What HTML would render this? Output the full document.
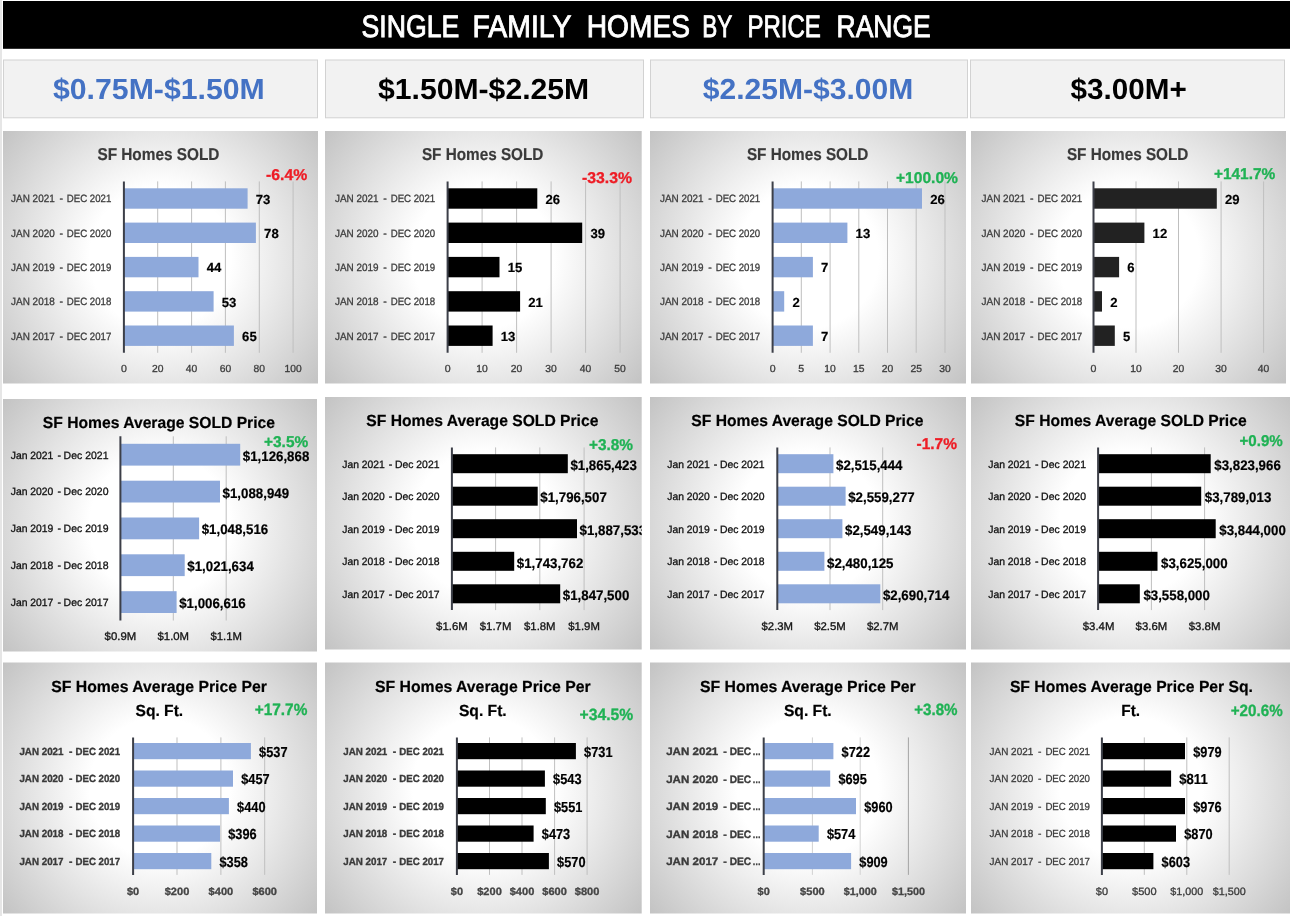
<!DOCTYPE html>
<html lang="en"><head><meta charset="utf-8"><title>Single Family Homes by Price Range</title>
<style>
html,body{margin:0;padding:0;background:#fff;}
body{width:1290px;height:916px;overflow:hidden;}
svg{display:block;font-family:"Liberation Sans",sans-serif;text-rendering:geometricPrecision;}
</style></head><body>
<svg width="1290" height="916" viewBox="0 0 1290 916">
<defs>
<radialGradient id="g0" gradientUnits="userSpaceOnUse" cx="160.5" cy="257.2" r="201.9"><stop offset="0" stop-color="#fff"/><stop offset="0.35" stop-color="#fff"/><stop offset="1" stop-color="#c3c3c3"/></radialGradient>
<clipPath id="c0"><rect x="3.0" y="131.0" width="315.0" height="252.5"/></clipPath>
<radialGradient id="g1" gradientUnits="userSpaceOnUse" cx="483.4" cy="257.2" r="202.5"><stop offset="0" stop-color="#fff"/><stop offset="0.35" stop-color="#fff"/><stop offset="1" stop-color="#c3c3c3"/></radialGradient>
<clipPath id="c1"><rect x="325.0" y="131.0" width="316.7" height="252.5"/></clipPath>
<radialGradient id="g2" gradientUnits="userSpaceOnUse" cx="808.0" cy="257.2" r="202.2"><stop offset="0" stop-color="#fff"/><stop offset="0.35" stop-color="#fff"/><stop offset="1" stop-color="#c3c3c3"/></radialGradient>
<clipPath id="c2"><rect x="650.0" y="131.0" width="316.0" height="252.5"/></clipPath>
<radialGradient id="g3" gradientUnits="userSpaceOnUse" cx="1128.5" cy="257.2" r="201.9"><stop offset="0" stop-color="#fff"/><stop offset="0.35" stop-color="#fff"/><stop offset="1" stop-color="#c3c3c3"/></radialGradient>
<clipPath id="c3"><rect x="971.0" y="131.0" width="315.0" height="252.5"/></clipPath>
<radialGradient id="g4" gradientUnits="userSpaceOnUse" cx="160.0" cy="525.2" r="201.5"><stop offset="0" stop-color="#fff"/><stop offset="0.35" stop-color="#fff"/><stop offset="1" stop-color="#c3c3c3"/></radialGradient>
<clipPath id="c4"><rect x="3.0" y="399.0" width="314.0" height="252.5"/></clipPath>
<radialGradient id="g5" gradientUnits="userSpaceOnUse" cx="483.4" cy="523.2" r="202.5"><stop offset="0" stop-color="#fff"/><stop offset="0.35" stop-color="#fff"/><stop offset="1" stop-color="#c3c3c3"/></radialGradient>
<clipPath id="c5"><rect x="325.0" y="397.0" width="316.7" height="252.5"/></clipPath>
<radialGradient id="g6" gradientUnits="userSpaceOnUse" cx="808.0" cy="523.2" r="202.2"><stop offset="0" stop-color="#fff"/><stop offset="0.35" stop-color="#fff"/><stop offset="1" stop-color="#c3c3c3"/></radialGradient>
<clipPath id="c6"><rect x="650.0" y="397.0" width="316.0" height="252.5"/></clipPath>
<radialGradient id="g7" gradientUnits="userSpaceOnUse" cx="1131.0" cy="523.2" r="203.8"><stop offset="0" stop-color="#fff"/><stop offset="0.35" stop-color="#fff"/><stop offset="1" stop-color="#c3c3c3"/></radialGradient>
<clipPath id="c7"><rect x="971.0" y="397.0" width="320.0" height="252.5"/></clipPath>
<radialGradient id="g8" gradientUnits="userSpaceOnUse" cx="160.0" cy="788.0" r="201.0"><stop offset="0" stop-color="#fff"/><stop offset="0.35" stop-color="#fff"/><stop offset="1" stop-color="#c3c3c3"/></radialGradient>
<clipPath id="c8"><rect x="3.0" y="662.5" width="314.0" height="251.0"/></clipPath>
<radialGradient id="g9" gradientUnits="userSpaceOnUse" cx="483.4" cy="788.0" r="202.1"><stop offset="0" stop-color="#fff"/><stop offset="0.35" stop-color="#fff"/><stop offset="1" stop-color="#c3c3c3"/></radialGradient>
<clipPath id="c9"><rect x="325.0" y="662.5" width="316.7" height="251.0"/></clipPath>
<radialGradient id="g10" gradientUnits="userSpaceOnUse" cx="808.0" cy="788.0" r="201.8"><stop offset="0" stop-color="#fff"/><stop offset="0.35" stop-color="#fff"/><stop offset="1" stop-color="#c3c3c3"/></radialGradient>
<clipPath id="c10"><rect x="650.0" y="662.5" width="316.0" height="251.0"/></clipPath>
<radialGradient id="g11" gradientUnits="userSpaceOnUse" cx="1131.0" cy="788.0" r="203.3"><stop offset="0" stop-color="#fff"/><stop offset="0.35" stop-color="#fff"/><stop offset="1" stop-color="#c3c3c3"/></radialGradient>
<clipPath id="c11"><rect x="971.0" y="662.5" width="320.0" height="251.0"/></clipPath>
</defs>
<rect x="0.0" y="0.0" width="2.0" height="916.0" fill="#e6e6e6"/>
<rect x="3.0" y="1.0" width="1287.0" height="47.8" fill="#000"/>
<text y="36.7" font-size="31.15" fill="#fff" stroke="#fff" stroke-width="0.9"><tspan x="361.6" textLength="97.7" lengthAdjust="spacingAndGlyphs">SINGLE</tspan> <tspan x="472.6" textLength="98.3" lengthAdjust="spacingAndGlyphs">FAMILY</tspan> <tspan x="586.7" textLength="103.3" lengthAdjust="spacingAndGlyphs">HOMES</tspan> <tspan x="702.3" textLength="29.6" lengthAdjust="spacingAndGlyphs">BY</tspan> <tspan x="747.4" textLength="73.5" lengthAdjust="spacingAndGlyphs">PRICE</tspan> <tspan x="836.5" textLength="94.2" lengthAdjust="spacingAndGlyphs">RANGE</tspan></text>
<rect x="3.5" y="60.0" width="314.0" height="57.8" fill="#f2f2f2" stroke="#d2d2d2" stroke-width="1"/>
<text x="53.0" y="99.4" font-size="29.05" font-weight="bold" fill="#4472c4" textLength="211.7" lengthAdjust="spacingAndGlyphs">$0.75M-$1.50M</text>
<rect x="325.5" y="60.0" width="318.0" height="57.8" fill="#f2f2f2" stroke="#d2d2d2" stroke-width="1"/>
<text x="378.0" y="99.4" font-size="29.05" font-weight="bold" fill="#000" textLength="211.2" lengthAdjust="spacingAndGlyphs">$1.50M-$2.25M</text>
<rect x="650.5" y="60.0" width="317.0" height="57.8" fill="#f2f2f2" stroke="#d2d2d2" stroke-width="1"/>
<text x="702.7" y="99.4" font-size="29.05" font-weight="bold" fill="#4472c4" textLength="210.6" lengthAdjust="spacingAndGlyphs">$2.25M-$3.00M</text>
<rect x="970.5" y="60.0" width="314.0" height="57.8" fill="#f2f2f2" stroke="#d2d2d2" stroke-width="1"/>
<text x="1070.5" y="99.4" font-size="29.05" font-weight="bold" fill="#000" textLength="116.2" lengthAdjust="spacingAndGlyphs">$3.00M+</text>
<rect x="3.0" y="131.0" width="315.0" height="252.5" fill="url(#g0)"/>
<g clip-path="url(#c0)">
<line x1="157.7" y1="181.4" x2="157.7" y2="352.8" stroke="#bfbfbf" stroke-width="1"/>
<line x1="191.6" y1="181.4" x2="191.6" y2="352.8" stroke="#bfbfbf" stroke-width="1"/>
<line x1="225.4" y1="181.4" x2="225.4" y2="352.8" stroke="#bfbfbf" stroke-width="1"/>
<line x1="259.3" y1="181.4" x2="259.3" y2="352.8" stroke="#bfbfbf" stroke-width="1"/>
<line x1="293.1" y1="181.4" x2="293.1" y2="352.8" stroke="#bfbfbf" stroke-width="1"/>
<rect x="123.9" y="188.3" width="123.7" height="20.4" fill="#8ea9db"/>
<rect x="123.9" y="222.6" width="132.0" height="20.4" fill="#8ea9db"/>
<rect x="123.9" y="256.9" width="74.6" height="20.4" fill="#8ea9db"/>
<rect x="123.9" y="291.2" width="89.7" height="20.4" fill="#8ea9db"/>
<rect x="123.9" y="325.5" width="110.0" height="20.4" fill="#8ea9db"/>
<line x1="123.9" y1="181.4" x2="123.9" y2="352.8" stroke="#3c3f48" stroke-width="2"/>
<text x="97.4" y="160.1" font-size="17.18" font-weight="bold" fill="#3a3a3a" stroke="#3a3a3a" stroke-width="0.2" textLength="122.0" lengthAdjust="spacingAndGlyphs">SF Homes SOLD</text>
<text x="266.0" y="179.5" font-size="15.64" font-weight="bold" fill="#ee1c25" stroke="#ee1c25" stroke-width="0.3" textLength="41.2" lengthAdjust="spacingAndGlyphs">-6.4%</text>
<text y="202.3" font-size="10.61" fill="#3c3c3c" stroke="#3c3c3c" stroke-width="0.3"><tspan x="11.1" textLength="43.6" lengthAdjust="spacingAndGlyphs">JAN 2021</tspan> <tspan x="59.4">-</tspan> <tspan x="66.8" textLength="44.5" lengthAdjust="spacingAndGlyphs">DEC 2021</tspan></text>
<text y="236.6" font-size="10.61" fill="#3c3c3c" stroke="#3c3c3c" stroke-width="0.3"><tspan x="11.1" textLength="43.6" lengthAdjust="spacingAndGlyphs">JAN 2020</tspan> <tspan x="59.4">-</tspan> <tspan x="66.8" textLength="44.5" lengthAdjust="spacingAndGlyphs">DEC 2020</tspan></text>
<text y="270.9" font-size="10.61" fill="#3c3c3c" stroke="#3c3c3c" stroke-width="0.3"><tspan x="11.1" textLength="43.6" lengthAdjust="spacingAndGlyphs">JAN 2019</tspan> <tspan x="59.4">-</tspan> <tspan x="66.8" textLength="44.5" lengthAdjust="spacingAndGlyphs">DEC 2019</tspan></text>
<text y="305.2" font-size="10.61" fill="#3c3c3c" stroke="#3c3c3c" stroke-width="0.3"><tspan x="11.1" textLength="43.6" lengthAdjust="spacingAndGlyphs">JAN 2018</tspan> <tspan x="59.4">-</tspan> <tspan x="66.8" textLength="44.5" lengthAdjust="spacingAndGlyphs">DEC 2018</tspan></text>
<text y="339.5" font-size="10.61" fill="#3c3c3c" stroke="#3c3c3c" stroke-width="0.3"><tspan x="11.1" textLength="43.6" lengthAdjust="spacingAndGlyphs">JAN 2017</tspan> <tspan x="59.4">-</tspan> <tspan x="66.8" textLength="44.5" lengthAdjust="spacingAndGlyphs">DEC 2017</tspan></text>
<text x="255.8" y="203.7" font-size="13.13" font-weight="bold" fill="#000" stroke="#000" stroke-width="0.2" textLength="14.6" lengthAdjust="spacingAndGlyphs">73</text>
<text x="264.1" y="238.0" font-size="13.13" font-weight="bold" fill="#000" stroke="#000" stroke-width="0.2" textLength="14.6" lengthAdjust="spacingAndGlyphs">78</text>
<text x="206.7" y="272.3" font-size="13.13" font-weight="bold" fill="#000" stroke="#000" stroke-width="0.2" textLength="14.6" lengthAdjust="spacingAndGlyphs">44</text>
<text x="221.8" y="306.6" font-size="13.13" font-weight="bold" fill="#000" stroke="#000" stroke-width="0.2" textLength="14.6" lengthAdjust="spacingAndGlyphs">53</text>
<text x="242.1" y="340.9" font-size="13.13" font-weight="bold" fill="#000" stroke="#000" stroke-width="0.2" textLength="14.6" lengthAdjust="spacingAndGlyphs">65</text>
<text x="123.9" y="371.9" font-size="10.20" fill="#3c3c3c" stroke="#3c3c3c" stroke-width="0.3" text-anchor="middle" textLength="5.9" lengthAdjust="spacingAndGlyphs">0</text>
<text x="157.7" y="371.9" font-size="10.20" fill="#3c3c3c" stroke="#3c3c3c" stroke-width="0.3" text-anchor="middle" textLength="11.5" lengthAdjust="spacingAndGlyphs">20</text>
<text x="191.6" y="371.9" font-size="10.20" fill="#3c3c3c" stroke="#3c3c3c" stroke-width="0.3" text-anchor="middle" textLength="11.5" lengthAdjust="spacingAndGlyphs">40</text>
<text x="225.4" y="371.9" font-size="10.20" fill="#3c3c3c" stroke="#3c3c3c" stroke-width="0.3" text-anchor="middle" textLength="11.5" lengthAdjust="spacingAndGlyphs">60</text>
<text x="259.3" y="371.9" font-size="10.20" fill="#3c3c3c" stroke="#3c3c3c" stroke-width="0.3" text-anchor="middle" textLength="11.5" lengthAdjust="spacingAndGlyphs">80</text>
<text x="293.1" y="371.9" font-size="10.20" fill="#3c3c3c" stroke="#3c3c3c" stroke-width="0.3" text-anchor="middle" textLength="17.1" lengthAdjust="spacingAndGlyphs">100</text>
</g>
<rect x="325.0" y="131.0" width="316.7" height="252.5" fill="url(#g1)"/>
<g clip-path="url(#c1)">
<line x1="482.1" y1="181.4" x2="482.1" y2="352.8" stroke="#bfbfbf" stroke-width="1"/>
<line x1="516.6" y1="181.4" x2="516.6" y2="352.8" stroke="#bfbfbf" stroke-width="1"/>
<line x1="551.1" y1="181.4" x2="551.1" y2="352.8" stroke="#bfbfbf" stroke-width="1"/>
<line x1="585.6" y1="181.4" x2="585.6" y2="352.8" stroke="#bfbfbf" stroke-width="1"/>
<line x1="620.1" y1="181.4" x2="620.1" y2="352.8" stroke="#bfbfbf" stroke-width="1"/>
<rect x="447.6" y="188.3" width="89.7" height="20.4" fill="#000"/>
<rect x="447.6" y="222.6" width="134.6" height="20.4" fill="#000"/>
<rect x="447.6" y="256.9" width="51.9" height="20.4" fill="#000"/>
<rect x="447.6" y="291.2" width="72.5" height="20.4" fill="#000"/>
<rect x="447.6" y="325.5" width="45.0" height="20.4" fill="#000"/>
<line x1="447.6" y1="181.4" x2="447.6" y2="352.8" stroke="#3c3f48" stroke-width="2"/>
<text x="421.9" y="160.1" font-size="17.18" font-weight="bold" fill="#3a3a3a" stroke="#3a3a3a" stroke-width="0.2" textLength="121.5" lengthAdjust="spacingAndGlyphs">SF Homes SOLD</text>
<text x="581.9" y="182.9" font-size="15.64" font-weight="bold" fill="#ee1c25" stroke="#ee1c25" stroke-width="0.3" textLength="50.1" lengthAdjust="spacingAndGlyphs">-33.3%</text>
<text y="202.3" font-size="10.61" fill="#3c3c3c" stroke="#3c3c3c" stroke-width="0.3"><tspan x="335.0" textLength="43.6" lengthAdjust="spacingAndGlyphs">JAN 2021</tspan> <tspan x="383.3">-</tspan> <tspan x="390.7" textLength="44.5" lengthAdjust="spacingAndGlyphs">DEC 2021</tspan></text>
<text y="236.6" font-size="10.61" fill="#3c3c3c" stroke="#3c3c3c" stroke-width="0.3"><tspan x="335.0" textLength="43.6" lengthAdjust="spacingAndGlyphs">JAN 2020</tspan> <tspan x="383.3">-</tspan> <tspan x="390.7" textLength="44.5" lengthAdjust="spacingAndGlyphs">DEC 2020</tspan></text>
<text y="270.9" font-size="10.61" fill="#3c3c3c" stroke="#3c3c3c" stroke-width="0.3"><tspan x="335.0" textLength="43.6" lengthAdjust="spacingAndGlyphs">JAN 2019</tspan> <tspan x="383.3">-</tspan> <tspan x="390.7" textLength="44.5" lengthAdjust="spacingAndGlyphs">DEC 2019</tspan></text>
<text y="305.2" font-size="10.61" fill="#3c3c3c" stroke="#3c3c3c" stroke-width="0.3"><tspan x="335.0" textLength="43.6" lengthAdjust="spacingAndGlyphs">JAN 2018</tspan> <tspan x="383.3">-</tspan> <tspan x="390.7" textLength="44.5" lengthAdjust="spacingAndGlyphs">DEC 2018</tspan></text>
<text y="339.5" font-size="10.61" fill="#3c3c3c" stroke="#3c3c3c" stroke-width="0.3"><tspan x="335.0" textLength="43.6" lengthAdjust="spacingAndGlyphs">JAN 2017</tspan> <tspan x="383.3">-</tspan> <tspan x="390.7" textLength="44.5" lengthAdjust="spacingAndGlyphs">DEC 2017</tspan></text>
<text x="545.5" y="203.7" font-size="13.13" font-weight="bold" fill="#000" stroke="#000" stroke-width="0.2" textLength="14.6" lengthAdjust="spacingAndGlyphs">26</text>
<text x="590.4" y="238.0" font-size="13.13" font-weight="bold" fill="#000" stroke="#000" stroke-width="0.2" textLength="14.6" lengthAdjust="spacingAndGlyphs">39</text>
<text x="507.7" y="272.3" font-size="13.13" font-weight="bold" fill="#000" stroke="#000" stroke-width="0.2" textLength="14.6" lengthAdjust="spacingAndGlyphs">15</text>
<text x="528.3" y="306.6" font-size="13.13" font-weight="bold" fill="#000" stroke="#000" stroke-width="0.2" textLength="14.6" lengthAdjust="spacingAndGlyphs">21</text>
<text x="500.8" y="340.9" font-size="13.13" font-weight="bold" fill="#000" stroke="#000" stroke-width="0.2" textLength="14.6" lengthAdjust="spacingAndGlyphs">13</text>
<text x="447.6" y="371.9" font-size="10.20" fill="#3c3c3c" stroke="#3c3c3c" stroke-width="0.3" text-anchor="middle" textLength="5.9" lengthAdjust="spacingAndGlyphs">0</text>
<text x="482.1" y="371.9" font-size="10.20" fill="#3c3c3c" stroke="#3c3c3c" stroke-width="0.3" text-anchor="middle" textLength="11.5" lengthAdjust="spacingAndGlyphs">10</text>
<text x="516.6" y="371.9" font-size="10.20" fill="#3c3c3c" stroke="#3c3c3c" stroke-width="0.3" text-anchor="middle" textLength="11.5" lengthAdjust="spacingAndGlyphs">20</text>
<text x="551.1" y="371.9" font-size="10.20" fill="#3c3c3c" stroke="#3c3c3c" stroke-width="0.3" text-anchor="middle" textLength="11.5" lengthAdjust="spacingAndGlyphs">30</text>
<text x="585.6" y="371.9" font-size="10.20" fill="#3c3c3c" stroke="#3c3c3c" stroke-width="0.3" text-anchor="middle" textLength="11.5" lengthAdjust="spacingAndGlyphs">40</text>
<text x="620.1" y="371.9" font-size="10.20" fill="#3c3c3c" stroke="#3c3c3c" stroke-width="0.3" text-anchor="middle" textLength="11.5" lengthAdjust="spacingAndGlyphs">50</text>
</g>
<rect x="650.0" y="131.0" width="316.0" height="252.5" fill="url(#g2)"/>
<g clip-path="url(#c2)">
<line x1="801.3" y1="181.4" x2="801.3" y2="352.8" stroke="#bfbfbf" stroke-width="1"/>
<line x1="830.1" y1="181.4" x2="830.1" y2="352.8" stroke="#bfbfbf" stroke-width="1"/>
<line x1="858.8" y1="181.4" x2="858.8" y2="352.8" stroke="#bfbfbf" stroke-width="1"/>
<line x1="887.5" y1="181.4" x2="887.5" y2="352.8" stroke="#bfbfbf" stroke-width="1"/>
<line x1="916.2" y1="181.4" x2="916.2" y2="352.8" stroke="#bfbfbf" stroke-width="1"/>
<line x1="945.0" y1="181.4" x2="945.0" y2="352.8" stroke="#bfbfbf" stroke-width="1"/>
<rect x="772.6" y="188.3" width="149.4" height="20.4" fill="#8ea9db"/>
<rect x="772.6" y="222.6" width="74.8" height="20.4" fill="#8ea9db"/>
<rect x="772.6" y="256.9" width="40.3" height="20.4" fill="#8ea9db"/>
<rect x="772.6" y="291.2" width="11.6" height="20.4" fill="#8ea9db"/>
<rect x="772.6" y="325.5" width="40.3" height="20.4" fill="#8ea9db"/>
<line x1="772.6" y1="181.4" x2="772.6" y2="352.8" stroke="#3c3f48" stroke-width="2"/>
<text x="746.9" y="160.1" font-size="17.18" font-weight="bold" fill="#3a3a3a" stroke="#3a3a3a" stroke-width="0.2" textLength="121.5" lengthAdjust="spacingAndGlyphs">SF Homes SOLD</text>
<text x="895.9" y="182.9" font-size="15.64" font-weight="bold" fill="#1fb254" stroke="#1fb254" stroke-width="0.3" textLength="62.1" lengthAdjust="spacingAndGlyphs">+100.0%</text>
<text y="202.3" font-size="10.61" fill="#3c3c3c" stroke="#3c3c3c" stroke-width="0.3"><tspan x="660.0" textLength="43.6" lengthAdjust="spacingAndGlyphs">JAN 2021</tspan> <tspan x="708.3">-</tspan> <tspan x="715.7" textLength="44.5" lengthAdjust="spacingAndGlyphs">DEC 2021</tspan></text>
<text y="236.6" font-size="10.61" fill="#3c3c3c" stroke="#3c3c3c" stroke-width="0.3"><tspan x="660.0" textLength="43.6" lengthAdjust="spacingAndGlyphs">JAN 2020</tspan> <tspan x="708.3">-</tspan> <tspan x="715.7" textLength="44.5" lengthAdjust="spacingAndGlyphs">DEC 2020</tspan></text>
<text y="270.9" font-size="10.61" fill="#3c3c3c" stroke="#3c3c3c" stroke-width="0.3"><tspan x="660.0" textLength="43.6" lengthAdjust="spacingAndGlyphs">JAN 2019</tspan> <tspan x="708.3">-</tspan> <tspan x="715.7" textLength="44.5" lengthAdjust="spacingAndGlyphs">DEC 2019</tspan></text>
<text y="305.2" font-size="10.61" fill="#3c3c3c" stroke="#3c3c3c" stroke-width="0.3"><tspan x="660.0" textLength="43.6" lengthAdjust="spacingAndGlyphs">JAN 2018</tspan> <tspan x="708.3">-</tspan> <tspan x="715.7" textLength="44.5" lengthAdjust="spacingAndGlyphs">DEC 2018</tspan></text>
<text y="339.5" font-size="10.61" fill="#3c3c3c" stroke="#3c3c3c" stroke-width="0.3"><tspan x="660.0" textLength="43.6" lengthAdjust="spacingAndGlyphs">JAN 2017</tspan> <tspan x="708.3">-</tspan> <tspan x="715.7" textLength="44.5" lengthAdjust="spacingAndGlyphs">DEC 2017</tspan></text>
<text x="930.2" y="203.7" font-size="13.13" font-weight="bold" fill="#000" stroke="#000" stroke-width="0.2" textLength="14.6" lengthAdjust="spacingAndGlyphs">26</text>
<text x="855.6" y="238.0" font-size="13.13" font-weight="bold" fill="#000" stroke="#000" stroke-width="0.2" textLength="14.6" lengthAdjust="spacingAndGlyphs">13</text>
<text x="821.1" y="272.3" font-size="13.13" font-weight="bold" fill="#000" stroke="#000" stroke-width="0.2" textLength="7.3" lengthAdjust="spacingAndGlyphs">7</text>
<text x="792.4" y="306.6" font-size="13.13" font-weight="bold" fill="#000" stroke="#000" stroke-width="0.2" textLength="7.3" lengthAdjust="spacingAndGlyphs">2</text>
<text x="821.1" y="340.9" font-size="13.13" font-weight="bold" fill="#000" stroke="#000" stroke-width="0.2" textLength="7.3" lengthAdjust="spacingAndGlyphs">7</text>
<text x="772.6" y="371.9" font-size="10.20" fill="#3c3c3c" stroke="#3c3c3c" stroke-width="0.3" text-anchor="middle" textLength="5.9" lengthAdjust="spacingAndGlyphs">0</text>
<text x="801.3" y="371.9" font-size="10.20" fill="#3c3c3c" stroke="#3c3c3c" stroke-width="0.3" text-anchor="middle" textLength="5.9" lengthAdjust="spacingAndGlyphs">5</text>
<text x="830.1" y="371.9" font-size="10.20" fill="#3c3c3c" stroke="#3c3c3c" stroke-width="0.3" text-anchor="middle" textLength="11.5" lengthAdjust="spacingAndGlyphs">10</text>
<text x="858.8" y="371.9" font-size="10.20" fill="#3c3c3c" stroke="#3c3c3c" stroke-width="0.3" text-anchor="middle" textLength="11.5" lengthAdjust="spacingAndGlyphs">15</text>
<text x="887.5" y="371.9" font-size="10.20" fill="#3c3c3c" stroke="#3c3c3c" stroke-width="0.3" text-anchor="middle" textLength="11.5" lengthAdjust="spacingAndGlyphs">20</text>
<text x="916.2" y="371.9" font-size="10.20" fill="#3c3c3c" stroke="#3c3c3c" stroke-width="0.3" text-anchor="middle" textLength="11.5" lengthAdjust="spacingAndGlyphs">25</text>
<text x="945.0" y="371.9" font-size="10.20" fill="#3c3c3c" stroke="#3c3c3c" stroke-width="0.3" text-anchor="middle" textLength="11.5" lengthAdjust="spacingAndGlyphs">30</text>
</g>
<rect x="971.0" y="131.0" width="315.0" height="252.5" fill="url(#g3)"/>
<g clip-path="url(#c3)">
<line x1="1136.0" y1="181.4" x2="1136.0" y2="352.8" stroke="#bfbfbf" stroke-width="1"/>
<line x1="1178.5" y1="181.4" x2="1178.5" y2="352.8" stroke="#bfbfbf" stroke-width="1"/>
<line x1="1221.1" y1="181.4" x2="1221.1" y2="352.8" stroke="#bfbfbf" stroke-width="1"/>
<line x1="1263.6" y1="181.4" x2="1263.6" y2="352.8" stroke="#bfbfbf" stroke-width="1"/>
<rect x="1093.5" y="188.3" width="123.3" height="20.4" fill="#222"/>
<rect x="1093.5" y="222.6" width="50.9" height="20.4" fill="#222"/>
<rect x="1093.5" y="256.9" width="25.6" height="20.4" fill="#222"/>
<rect x="1093.5" y="291.2" width="8.5" height="20.4" fill="#222"/>
<rect x="1093.5" y="325.5" width="21.3" height="20.4" fill="#222"/>
<line x1="1093.5" y1="181.4" x2="1093.5" y2="352.8" stroke="#3c3f48" stroke-width="2"/>
<text x="1066.9" y="160.1" font-size="17.18" font-weight="bold" fill="#3a3a3a" stroke="#3a3a3a" stroke-width="0.2" textLength="121.5" lengthAdjust="spacingAndGlyphs">SF Homes SOLD</text>
<text x="1213.9" y="178.7" font-size="15.64" font-weight="bold" fill="#1fb254" stroke="#1fb254" stroke-width="0.3" textLength="61.4" lengthAdjust="spacingAndGlyphs">+141.7%</text>
<text y="202.3" font-size="10.61" fill="#3c3c3c" stroke="#3c3c3c" stroke-width="0.3"><tspan x="981.5" textLength="43.8" lengthAdjust="spacingAndGlyphs">JAN 2021</tspan> <tspan x="1030.0">-</tspan> <tspan x="1037.5" textLength="44.7" lengthAdjust="spacingAndGlyphs">DEC 2021</tspan></text>
<text y="236.6" font-size="10.61" fill="#3c3c3c" stroke="#3c3c3c" stroke-width="0.3"><tspan x="981.5" textLength="43.8" lengthAdjust="spacingAndGlyphs">JAN 2020</tspan> <tspan x="1030.0">-</tspan> <tspan x="1037.5" textLength="44.7" lengthAdjust="spacingAndGlyphs">DEC 2020</tspan></text>
<text y="270.9" font-size="10.61" fill="#3c3c3c" stroke="#3c3c3c" stroke-width="0.3"><tspan x="981.5" textLength="43.8" lengthAdjust="spacingAndGlyphs">JAN 2019</tspan> <tspan x="1030.0">-</tspan> <tspan x="1037.5" textLength="44.7" lengthAdjust="spacingAndGlyphs">DEC 2019</tspan></text>
<text y="305.2" font-size="10.61" fill="#3c3c3c" stroke="#3c3c3c" stroke-width="0.3"><tspan x="981.5" textLength="43.8" lengthAdjust="spacingAndGlyphs">JAN 2018</tspan> <tspan x="1030.0">-</tspan> <tspan x="1037.5" textLength="44.7" lengthAdjust="spacingAndGlyphs">DEC 2018</tspan></text>
<text y="339.5" font-size="10.61" fill="#3c3c3c" stroke="#3c3c3c" stroke-width="0.3"><tspan x="981.5" textLength="43.8" lengthAdjust="spacingAndGlyphs">JAN 2017</tspan> <tspan x="1030.0">-</tspan> <tspan x="1037.5" textLength="44.7" lengthAdjust="spacingAndGlyphs">DEC 2017</tspan></text>
<text x="1225.0" y="203.7" font-size="13.13" font-weight="bold" fill="#000" stroke="#000" stroke-width="0.2" textLength="14.6" lengthAdjust="spacingAndGlyphs">29</text>
<text x="1152.6" y="238.0" font-size="13.13" font-weight="bold" fill="#000" stroke="#000" stroke-width="0.2" textLength="14.6" lengthAdjust="spacingAndGlyphs">12</text>
<text x="1127.3" y="272.3" font-size="13.13" font-weight="bold" fill="#000" stroke="#000" stroke-width="0.2" textLength="7.3" lengthAdjust="spacingAndGlyphs">6</text>
<text x="1110.2" y="306.6" font-size="13.13" font-weight="bold" fill="#000" stroke="#000" stroke-width="0.2" textLength="7.3" lengthAdjust="spacingAndGlyphs">2</text>
<text x="1123.0" y="340.9" font-size="13.13" font-weight="bold" fill="#000" stroke="#000" stroke-width="0.2" textLength="7.3" lengthAdjust="spacingAndGlyphs">5</text>
<text x="1093.5" y="371.9" font-size="10.20" fill="#3c3c3c" stroke="#3c3c3c" stroke-width="0.3" text-anchor="middle" textLength="5.9" lengthAdjust="spacingAndGlyphs">0</text>
<text x="1136.0" y="371.9" font-size="10.20" fill="#3c3c3c" stroke="#3c3c3c" stroke-width="0.3" text-anchor="middle" textLength="11.5" lengthAdjust="spacingAndGlyphs">10</text>
<text x="1178.5" y="371.9" font-size="10.20" fill="#3c3c3c" stroke="#3c3c3c" stroke-width="0.3" text-anchor="middle" textLength="11.5" lengthAdjust="spacingAndGlyphs">20</text>
<text x="1221.1" y="371.9" font-size="10.20" fill="#3c3c3c" stroke="#3c3c3c" stroke-width="0.3" text-anchor="middle" textLength="11.5" lengthAdjust="spacingAndGlyphs">30</text>
<text x="1263.6" y="371.9" font-size="10.20" fill="#3c3c3c" stroke="#3c3c3c" stroke-width="0.3" text-anchor="middle" textLength="11.5" lengthAdjust="spacingAndGlyphs">40</text>
</g>
<rect x="3.0" y="399.0" width="314.0" height="252.5" fill="url(#g4)"/>
<g clip-path="url(#c4)">
<line x1="173.3" y1="436.3" x2="173.3" y2="620.5" stroke="#bfbfbf" stroke-width="1"/>
<line x1="226.2" y1="436.3" x2="226.2" y2="620.5" stroke="#bfbfbf" stroke-width="1"/>
<rect x="120.4" y="443.8" width="119.8" height="21.8" fill="#8ea9db"/>
<rect x="120.4" y="480.7" width="99.6" height="21.8" fill="#8ea9db"/>
<rect x="120.4" y="517.5" width="78.7" height="21.8" fill="#8ea9db"/>
<rect x="120.4" y="554.3" width="64.3" height="21.8" fill="#8ea9db"/>
<rect x="120.4" y="591.2" width="56.2" height="21.8" fill="#8ea9db"/>
<line x1="120.4" y1="436.3" x2="120.4" y2="620.5" stroke="#3c3f48" stroke-width="2"/>
<text x="42.8" y="428.2" font-size="16.06" font-weight="bold" fill="#000" stroke="#000" stroke-width="0.2" textLength="232.2" lengthAdjust="spacingAndGlyphs">SF Homes Average SOLD Price</text>
<text x="264.0" y="446.5" font-size="15.64" font-weight="bold" fill="#1fb254" stroke="#1fb254" stroke-width="0.3" textLength="44.2" lengthAdjust="spacingAndGlyphs">+3.5%</text>
<text y="458.5" font-size="10.61" fill="#111" stroke="#111" stroke-width="0.3"><tspan x="10.7" textLength="42.7" lengthAdjust="spacingAndGlyphs">Jan 2021</tspan> <tspan x="57.4">-</tspan> <tspan x="63.6" textLength="44.9" lengthAdjust="spacingAndGlyphs">Dec 2021</tspan></text>
<text y="495.4" font-size="10.61" fill="#111" stroke="#111" stroke-width="0.3"><tspan x="10.7" textLength="42.7" lengthAdjust="spacingAndGlyphs">Jan 2020</tspan> <tspan x="57.4">-</tspan> <tspan x="63.6" textLength="44.9" lengthAdjust="spacingAndGlyphs">Dec 2020</tspan></text>
<text y="532.2" font-size="10.61" fill="#111" stroke="#111" stroke-width="0.3"><tspan x="10.7" textLength="42.7" lengthAdjust="spacingAndGlyphs">Jan 2019</tspan> <tspan x="57.4">-</tspan> <tspan x="63.6" textLength="44.9" lengthAdjust="spacingAndGlyphs">Dec 2019</tspan></text>
<text y="569.0" font-size="10.61" fill="#111" stroke="#111" stroke-width="0.3"><tspan x="10.7" textLength="42.7" lengthAdjust="spacingAndGlyphs">Jan 2018</tspan> <tspan x="57.4">-</tspan> <tspan x="63.6" textLength="44.9" lengthAdjust="spacingAndGlyphs">Dec 2018</tspan></text>
<text y="605.9" font-size="10.61" fill="#111" stroke="#111" stroke-width="0.3"><tspan x="10.7" textLength="42.7" lengthAdjust="spacingAndGlyphs">Jan 2017</tspan> <tspan x="57.4">-</tspan> <tspan x="63.6" textLength="44.9" lengthAdjust="spacingAndGlyphs">Dec 2017</tspan></text>
<text x="242.8" y="460.7" font-size="13.97" font-weight="bold" fill="#000" stroke="#000" stroke-width="0.2" textLength="66.5" lengthAdjust="spacingAndGlyphs">$1,126,868</text>
<text x="222.6" y="497.6" font-size="13.97" font-weight="bold" fill="#000" stroke="#000" stroke-width="0.2" textLength="66.5" lengthAdjust="spacingAndGlyphs">$1,088,949</text>
<text x="201.7" y="534.4" font-size="13.97" font-weight="bold" fill="#000" stroke="#000" stroke-width="0.2" textLength="66.5" lengthAdjust="spacingAndGlyphs">$1,048,516</text>
<text x="187.3" y="571.2" font-size="13.97" font-weight="bold" fill="#000" stroke="#000" stroke-width="0.2" textLength="66.5" lengthAdjust="spacingAndGlyphs">$1,021,634</text>
<text x="179.2" y="608.1" font-size="13.97" font-weight="bold" fill="#000" stroke="#000" stroke-width="0.2" textLength="66.5" lengthAdjust="spacingAndGlyphs">$1,006,616</text>
<text x="120.4" y="640.4" font-size="11.17" fill="#111" stroke="#111" stroke-width="0.3" text-anchor="middle" textLength="31.6" lengthAdjust="spacingAndGlyphs">$0.9M</text>
<text x="173.3" y="640.4" font-size="11.17" fill="#111" stroke="#111" stroke-width="0.3" text-anchor="middle" textLength="31.6" lengthAdjust="spacingAndGlyphs">$1.0M</text>
<text x="226.2" y="640.4" font-size="11.17" fill="#111" stroke="#111" stroke-width="0.3" text-anchor="middle" textLength="31.6" lengthAdjust="spacingAndGlyphs">$1.1M</text>
</g>
<rect x="325.0" y="397.0" width="316.7" height="252.5" fill="url(#g5)"/>
<g clip-path="url(#c5)">
<line x1="495.6" y1="447.4" x2="495.6" y2="610.1" stroke="#bfbfbf" stroke-width="1"/>
<line x1="539.8" y1="447.4" x2="539.8" y2="610.1" stroke="#bfbfbf" stroke-width="1"/>
<line x1="584.1" y1="447.4" x2="584.1" y2="610.1" stroke="#bfbfbf" stroke-width="1"/>
<rect x="451.9" y="454.2" width="115.9" height="19.0" fill="#000"/>
<rect x="451.9" y="486.7" width="85.8" height="19.0" fill="#000"/>
<rect x="451.9" y="519.2" width="125.1" height="19.0" fill="#000"/>
<rect x="451.9" y="551.8" width="62.3" height="19.0" fill="#000"/>
<rect x="451.9" y="584.3" width="108.3" height="19.0" fill="#000"/>
<line x1="451.9" y1="447.4" x2="451.9" y2="610.1" stroke="#3c3f48" stroke-width="2"/>
<text x="366.3" y="426.2" font-size="16.06" font-weight="bold" fill="#000" stroke="#000" stroke-width="0.2" textLength="232.1" lengthAdjust="spacingAndGlyphs">SF Homes Average SOLD Price</text>
<text x="588.9" y="449.6" font-size="15.64" font-weight="bold" fill="#1fb254" stroke="#1fb254" stroke-width="0.3" textLength="44.1" lengthAdjust="spacingAndGlyphs">+3.8%</text>
<text y="467.5" font-size="10.61" fill="#111" stroke="#111" stroke-width="0.3"><tspan x="342.3" textLength="42.5" lengthAdjust="spacingAndGlyphs">Jan 2021</tspan> <tspan x="388.7">-</tspan> <tspan x="394.9" textLength="44.6" lengthAdjust="spacingAndGlyphs">Dec 2021</tspan></text>
<text y="500.0" font-size="10.61" fill="#111" stroke="#111" stroke-width="0.3"><tspan x="342.3" textLength="42.5" lengthAdjust="spacingAndGlyphs">Jan 2020</tspan> <tspan x="388.7">-</tspan> <tspan x="394.9" textLength="44.6" lengthAdjust="spacingAndGlyphs">Dec 2020</tspan></text>
<text y="532.5" font-size="10.61" fill="#111" stroke="#111" stroke-width="0.3"><tspan x="342.3" textLength="42.5" lengthAdjust="spacingAndGlyphs">Jan 2019</tspan> <tspan x="388.7">-</tspan> <tspan x="394.9" textLength="44.6" lengthAdjust="spacingAndGlyphs">Dec 2019</tspan></text>
<text y="565.1" font-size="10.61" fill="#111" stroke="#111" stroke-width="0.3"><tspan x="342.3" textLength="42.5" lengthAdjust="spacingAndGlyphs">Jan 2018</tspan> <tspan x="388.7">-</tspan> <tspan x="394.9" textLength="44.6" lengthAdjust="spacingAndGlyphs">Dec 2018</tspan></text>
<text y="597.6" font-size="10.61" fill="#111" stroke="#111" stroke-width="0.3"><tspan x="342.3" textLength="42.5" lengthAdjust="spacingAndGlyphs">Jan 2017</tspan> <tspan x="388.7">-</tspan> <tspan x="394.9" textLength="44.6" lengthAdjust="spacingAndGlyphs">Dec 2017</tspan></text>
<text x="570.4" y="469.9" font-size="13.97" font-weight="bold" fill="#000" stroke="#000" stroke-width="0.2" textLength="66.5" lengthAdjust="spacingAndGlyphs">$1,865,423</text>
<text x="540.3" y="502.4" font-size="13.97" font-weight="bold" fill="#000" stroke="#000" stroke-width="0.2" textLength="66.5" lengthAdjust="spacingAndGlyphs">$1,796,507</text>
<text x="579.6" y="535.0" font-size="13.97" font-weight="bold" fill="#000" stroke="#000" stroke-width="0.2" textLength="66.5" lengthAdjust="spacingAndGlyphs">$1,887,533</text>
<text x="516.8" y="567.5" font-size="13.97" font-weight="bold" fill="#000" stroke="#000" stroke-width="0.2" textLength="66.5" lengthAdjust="spacingAndGlyphs">$1,743,762</text>
<text x="562.8" y="600.0" font-size="13.97" font-weight="bold" fill="#000" stroke="#000" stroke-width="0.2" textLength="66.5" lengthAdjust="spacingAndGlyphs">$1,847,500</text>
<text x="451.9" y="630.4" font-size="11.17" fill="#111" stroke="#111" stroke-width="0.3" text-anchor="middle" textLength="31.6" lengthAdjust="spacingAndGlyphs">$1.6M</text>
<text x="495.6" y="630.4" font-size="11.17" fill="#111" stroke="#111" stroke-width="0.3" text-anchor="middle" textLength="31.6" lengthAdjust="spacingAndGlyphs">$1.7M</text>
<text x="539.8" y="630.4" font-size="11.17" fill="#111" stroke="#111" stroke-width="0.3" text-anchor="middle" textLength="31.6" lengthAdjust="spacingAndGlyphs">$1.8M</text>
<text x="584.1" y="630.4" font-size="11.17" fill="#111" stroke="#111" stroke-width="0.3" text-anchor="middle" textLength="31.6" lengthAdjust="spacingAndGlyphs">$1.9M</text>
</g>
<rect x="650.0" y="397.0" width="316.0" height="252.5" fill="url(#g6)"/>
<g clip-path="url(#c6)">
<line x1="830.0" y1="447.4" x2="830.0" y2="610.1" stroke="#bfbfbf" stroke-width="1"/>
<line x1="882.7" y1="447.4" x2="882.7" y2="610.1" stroke="#bfbfbf" stroke-width="1"/>
<rect x="777.3" y="454.2" width="56.1" height="19.0" fill="#8ea9db"/>
<rect x="777.3" y="486.7" width="68.3" height="19.0" fill="#8ea9db"/>
<rect x="777.3" y="519.2" width="65.1" height="19.0" fill="#8ea9db"/>
<rect x="777.3" y="551.8" width="47.1" height="19.0" fill="#8ea9db"/>
<rect x="777.3" y="584.3" width="103.0" height="19.0" fill="#8ea9db"/>
<line x1="777.3" y1="447.4" x2="777.3" y2="610.1" stroke="#3c3f48" stroke-width="2"/>
<text x="691.3" y="426.2" font-size="16.06" font-weight="bold" fill="#000" stroke="#000" stroke-width="0.2" textLength="232.1" lengthAdjust="spacingAndGlyphs">SF Homes Average SOLD Price</text>
<text x="916.5" y="448.8" font-size="15.64" font-weight="bold" fill="#ee1c25" stroke="#ee1c25" stroke-width="0.3" textLength="40.5" lengthAdjust="spacingAndGlyphs">-1.7%</text>
<text y="467.5" font-size="10.61" fill="#111" stroke="#111" stroke-width="0.3"><tspan x="667.3" textLength="42.5" lengthAdjust="spacingAndGlyphs">Jan 2021</tspan> <tspan x="713.7">-</tspan> <tspan x="719.9" textLength="44.6" lengthAdjust="spacingAndGlyphs">Dec 2021</tspan></text>
<text y="500.0" font-size="10.61" fill="#111" stroke="#111" stroke-width="0.3"><tspan x="667.3" textLength="42.5" lengthAdjust="spacingAndGlyphs">Jan 2020</tspan> <tspan x="713.7">-</tspan> <tspan x="719.9" textLength="44.6" lengthAdjust="spacingAndGlyphs">Dec 2020</tspan></text>
<text y="532.5" font-size="10.61" fill="#111" stroke="#111" stroke-width="0.3"><tspan x="667.3" textLength="42.5" lengthAdjust="spacingAndGlyphs">Jan 2019</tspan> <tspan x="713.7">-</tspan> <tspan x="719.9" textLength="44.6" lengthAdjust="spacingAndGlyphs">Dec 2019</tspan></text>
<text y="565.1" font-size="10.61" fill="#111" stroke="#111" stroke-width="0.3"><tspan x="667.3" textLength="42.5" lengthAdjust="spacingAndGlyphs">Jan 2018</tspan> <tspan x="713.7">-</tspan> <tspan x="719.9" textLength="44.6" lengthAdjust="spacingAndGlyphs">Dec 2018</tspan></text>
<text y="597.6" font-size="10.61" fill="#111" stroke="#111" stroke-width="0.3"><tspan x="667.3" textLength="42.5" lengthAdjust="spacingAndGlyphs">Jan 2017</tspan> <tspan x="713.7">-</tspan> <tspan x="719.9" textLength="44.6" lengthAdjust="spacingAndGlyphs">Dec 2017</tspan></text>
<text x="836.0" y="469.9" font-size="13.97" font-weight="bold" fill="#000" stroke="#000" stroke-width="0.2" textLength="66.5" lengthAdjust="spacingAndGlyphs">$2,515,444</text>
<text x="848.2" y="502.4" font-size="13.97" font-weight="bold" fill="#000" stroke="#000" stroke-width="0.2" textLength="66.5" lengthAdjust="spacingAndGlyphs">$2,559,277</text>
<text x="845.0" y="535.0" font-size="13.97" font-weight="bold" fill="#000" stroke="#000" stroke-width="0.2" textLength="66.5" lengthAdjust="spacingAndGlyphs">$2,549,143</text>
<text x="827.0" y="567.5" font-size="13.97" font-weight="bold" fill="#000" stroke="#000" stroke-width="0.2" textLength="66.5" lengthAdjust="spacingAndGlyphs">$2,480,125</text>
<text x="882.9" y="600.0" font-size="13.97" font-weight="bold" fill="#000" stroke="#000" stroke-width="0.2" textLength="66.5" lengthAdjust="spacingAndGlyphs">$2,690,714</text>
<text x="777.3" y="630.4" font-size="11.17" fill="#111" stroke="#111" stroke-width="0.3" text-anchor="middle" textLength="31.6" lengthAdjust="spacingAndGlyphs">$2.3M</text>
<text x="830.0" y="630.4" font-size="11.17" fill="#111" stroke="#111" stroke-width="0.3" text-anchor="middle" textLength="31.6" lengthAdjust="spacingAndGlyphs">$2.5M</text>
<text x="882.7" y="630.4" font-size="11.17" fill="#111" stroke="#111" stroke-width="0.3" text-anchor="middle" textLength="31.6" lengthAdjust="spacingAndGlyphs">$2.7M</text>
</g>
<rect x="971.0" y="397.0" width="320.0" height="252.5" fill="url(#g7)"/>
<g clip-path="url(#c7)">
<line x1="1151.4" y1="447.4" x2="1151.4" y2="610.1" stroke="#bfbfbf" stroke-width="1"/>
<line x1="1204.6" y1="447.4" x2="1204.6" y2="610.1" stroke="#bfbfbf" stroke-width="1"/>
<rect x="1098.1" y="454.2" width="112.6" height="19.0" fill="#000"/>
<rect x="1098.1" y="486.7" width="103.1" height="19.0" fill="#000"/>
<rect x="1098.1" y="519.2" width="117.6" height="19.0" fill="#000"/>
<rect x="1098.1" y="551.8" width="59.4" height="19.0" fill="#000"/>
<rect x="1098.1" y="584.3" width="41.7" height="19.0" fill="#000"/>
<line x1="1098.1" y1="447.4" x2="1098.1" y2="610.1" stroke="#3c3f48" stroke-width="2"/>
<text x="1014.8" y="426.2" font-size="16.06" font-weight="bold" fill="#000" stroke="#000" stroke-width="0.2" textLength="231.8" lengthAdjust="spacingAndGlyphs">SF Homes Average SOLD Price</text>
<text x="1239.4" y="445.6" font-size="15.64" font-weight="bold" fill="#1fb254" stroke="#1fb254" stroke-width="0.3" textLength="43.4" lengthAdjust="spacingAndGlyphs">+0.9%</text>
<text y="467.5" font-size="10.61" fill="#111" stroke="#111" stroke-width="0.3"><tspan x="988.2" textLength="42.7" lengthAdjust="spacingAndGlyphs">Jan 2021</tspan> <tspan x="1034.9">-</tspan> <tspan x="1041.1" textLength="44.9" lengthAdjust="spacingAndGlyphs">Dec 2021</tspan></text>
<text y="500.0" font-size="10.61" fill="#111" stroke="#111" stroke-width="0.3"><tspan x="988.2" textLength="42.7" lengthAdjust="spacingAndGlyphs">Jan 2020</tspan> <tspan x="1034.9">-</tspan> <tspan x="1041.1" textLength="44.9" lengthAdjust="spacingAndGlyphs">Dec 2020</tspan></text>
<text y="532.5" font-size="10.61" fill="#111" stroke="#111" stroke-width="0.3"><tspan x="988.2" textLength="42.7" lengthAdjust="spacingAndGlyphs">Jan 2019</tspan> <tspan x="1034.9">-</tspan> <tspan x="1041.1" textLength="44.9" lengthAdjust="spacingAndGlyphs">Dec 2019</tspan></text>
<text y="565.1" font-size="10.61" fill="#111" stroke="#111" stroke-width="0.3"><tspan x="988.2" textLength="42.7" lengthAdjust="spacingAndGlyphs">Jan 2018</tspan> <tspan x="1034.9">-</tspan> <tspan x="1041.1" textLength="44.9" lengthAdjust="spacingAndGlyphs">Dec 2018</tspan></text>
<text y="597.6" font-size="10.61" fill="#111" stroke="#111" stroke-width="0.3"><tspan x="988.2" textLength="42.7" lengthAdjust="spacingAndGlyphs">Jan 2017</tspan> <tspan x="1034.9">-</tspan> <tspan x="1041.1" textLength="44.9" lengthAdjust="spacingAndGlyphs">Dec 2017</tspan></text>
<text x="1214.3" y="469.9" font-size="13.97" font-weight="bold" fill="#000" stroke="#000" stroke-width="0.2" textLength="66.5" lengthAdjust="spacingAndGlyphs">$3,823,966</text>
<text x="1204.8" y="502.4" font-size="13.97" font-weight="bold" fill="#000" stroke="#000" stroke-width="0.2" textLength="66.5" lengthAdjust="spacingAndGlyphs">$3,789,013</text>
<text x="1219.3" y="535.0" font-size="13.97" font-weight="bold" fill="#000" stroke="#000" stroke-width="0.2" textLength="66.5" lengthAdjust="spacingAndGlyphs">$3,844,000</text>
<text x="1161.1" y="567.5" font-size="13.97" font-weight="bold" fill="#000" stroke="#000" stroke-width="0.2" textLength="66.5" lengthAdjust="spacingAndGlyphs">$3,625,000</text>
<text x="1143.4" y="600.0" font-size="13.97" font-weight="bold" fill="#000" stroke="#000" stroke-width="0.2" textLength="66.5" lengthAdjust="spacingAndGlyphs">$3,558,000</text>
<text x="1098.6" y="630.4" font-size="11.17" fill="#111" stroke="#111" stroke-width="0.3" text-anchor="middle" textLength="31.6" lengthAdjust="spacingAndGlyphs">$3.4M</text>
<text x="1151.4" y="630.4" font-size="11.17" fill="#111" stroke="#111" stroke-width="0.3" text-anchor="middle" textLength="31.6" lengthAdjust="spacingAndGlyphs">$3.6M</text>
<text x="1204.6" y="630.4" font-size="11.17" fill="#111" stroke="#111" stroke-width="0.3" text-anchor="middle" textLength="31.6" lengthAdjust="spacingAndGlyphs">$3.8M</text>
</g>
<rect x="3.0" y="662.5" width="314.0" height="251.0" fill="url(#g8)"/>
<g clip-path="url(#c8)">
<line x1="177.0" y1="737.4" x2="177.0" y2="874.9" stroke="#bfbfbf" stroke-width="1"/>
<line x1="220.9" y1="737.4" x2="220.9" y2="874.9" stroke="#bfbfbf" stroke-width="1"/>
<line x1="264.7" y1="737.4" x2="264.7" y2="874.9" stroke="#bfbfbf" stroke-width="1"/>
<rect x="133.1" y="743.0" width="117.8" height="16.2" fill="#8ea9db"/>
<rect x="133.1" y="770.5" width="99.9" height="16.2" fill="#8ea9db"/>
<rect x="133.1" y="798.0" width="95.8" height="16.2" fill="#8ea9db"/>
<rect x="133.1" y="825.5" width="86.9" height="16.2" fill="#8ea9db"/>
<rect x="133.1" y="853.0" width="78.2" height="16.2" fill="#8ea9db"/>
<line x1="133.1" y1="737.4" x2="133.1" y2="874.9" stroke="#3c3f48" stroke-width="2"/>
<text x="51.2" y="691.5" font-size="16.06" font-weight="bold" fill="#000" stroke="#000" stroke-width="0.2" textLength="215.7" lengthAdjust="spacingAndGlyphs">SF Homes Average Price Per</text>
<text x="135.5" y="715.8" font-size="16.06" font-weight="bold" fill="#000" stroke="#000" stroke-width="0.2" textLength="47.7" lengthAdjust="spacingAndGlyphs">Sq. Ft.</text>
<text x="254.7" y="714.7" font-size="16.34" font-weight="bold" fill="#1fb254" stroke="#1fb254" stroke-width="0.3" textLength="52.7" lengthAdjust="spacingAndGlyphs">+17.7%</text>
<text y="754.9" font-size="10.34" font-weight="bold" fill="#3a3a3a" stroke="#3a3a3a" stroke-width="0.35"><tspan x="19.4" textLength="44.1" lengthAdjust="spacingAndGlyphs">JAN 2021</tspan> <tspan x="69.0">-</tspan> <tspan x="75.5" textLength="44.6" lengthAdjust="spacingAndGlyphs">DEC 2021</tspan></text>
<text y="782.4" font-size="10.34" font-weight="bold" fill="#3a3a3a" stroke="#3a3a3a" stroke-width="0.35"><tspan x="19.4" textLength="44.1" lengthAdjust="spacingAndGlyphs">JAN 2020</tspan> <tspan x="69.0">-</tspan> <tspan x="75.5" textLength="44.6" lengthAdjust="spacingAndGlyphs">DEC 2020</tspan></text>
<text y="809.9" font-size="10.34" font-weight="bold" fill="#3a3a3a" stroke="#3a3a3a" stroke-width="0.35"><tspan x="19.4" textLength="44.1" lengthAdjust="spacingAndGlyphs">JAN 2019</tspan> <tspan x="69.0">-</tspan> <tspan x="75.5" textLength="44.6" lengthAdjust="spacingAndGlyphs">DEC 2019</tspan></text>
<text y="837.4" font-size="10.34" font-weight="bold" fill="#3a3a3a" stroke="#3a3a3a" stroke-width="0.35"><tspan x="19.4" textLength="44.1" lengthAdjust="spacingAndGlyphs">JAN 2018</tspan> <tspan x="69.0">-</tspan> <tspan x="75.5" textLength="44.6" lengthAdjust="spacingAndGlyphs">DEC 2018</tspan></text>
<text y="864.9" font-size="10.34" font-weight="bold" fill="#3a3a3a" stroke="#3a3a3a" stroke-width="0.35"><tspan x="19.4" textLength="44.1" lengthAdjust="spacingAndGlyphs">JAN 2017</tspan> <tspan x="69.0">-</tspan> <tspan x="75.5" textLength="44.6" lengthAdjust="spacingAndGlyphs">DEC 2017</tspan></text>
<text x="259.1" y="756.6" font-size="14.53" font-weight="bold" fill="#000" stroke="#000" stroke-width="0.2" textLength="28.4" lengthAdjust="spacingAndGlyphs">$537</text>
<text x="241.2" y="784.1" font-size="14.53" font-weight="bold" fill="#000" stroke="#000" stroke-width="0.2" textLength="28.4" lengthAdjust="spacingAndGlyphs">$457</text>
<text x="237.1" y="811.6" font-size="14.53" font-weight="bold" fill="#000" stroke="#000" stroke-width="0.2" textLength="28.4" lengthAdjust="spacingAndGlyphs">$440</text>
<text x="228.2" y="839.1" font-size="14.53" font-weight="bold" fill="#000" stroke="#000" stroke-width="0.2" textLength="28.4" lengthAdjust="spacingAndGlyphs">$396</text>
<text x="219.5" y="866.6" font-size="14.53" font-weight="bold" fill="#000" stroke="#000" stroke-width="0.2" textLength="28.4" lengthAdjust="spacingAndGlyphs">$358</text>
<text x="133.1" y="895.0" font-size="10.61" font-weight="bold" fill="#444" stroke="#444" stroke-width="0.3" text-anchor="middle" textLength="12.2" lengthAdjust="spacingAndGlyphs">$0</text>
<text x="177.0" y="895.0" font-size="10.61" font-weight="bold" fill="#444" stroke="#444" stroke-width="0.3" text-anchor="middle" textLength="24.6" lengthAdjust="spacingAndGlyphs">$200</text>
<text x="220.9" y="895.0" font-size="10.61" font-weight="bold" fill="#444" stroke="#444" stroke-width="0.3" text-anchor="middle" textLength="24.6" lengthAdjust="spacingAndGlyphs">$400</text>
<text x="264.7" y="895.0" font-size="10.61" font-weight="bold" fill="#444" stroke="#444" stroke-width="0.3" text-anchor="middle" textLength="24.6" lengthAdjust="spacingAndGlyphs">$600</text>
</g>
<rect x="325.0" y="662.5" width="316.7" height="251.0" fill="url(#g9)"/>
<g clip-path="url(#c9)">
<line x1="489.5" y1="737.4" x2="489.5" y2="874.9" stroke="#bfbfbf" stroke-width="1"/>
<line x1="522.0" y1="737.4" x2="522.0" y2="874.9" stroke="#bfbfbf" stroke-width="1"/>
<line x1="554.6" y1="737.4" x2="554.6" y2="874.9" stroke="#bfbfbf" stroke-width="1"/>
<line x1="587.1" y1="737.4" x2="587.1" y2="874.9" stroke="#bfbfbf" stroke-width="1"/>
<rect x="456.9" y="743.0" width="119.0" height="16.2" fill="#000"/>
<rect x="456.9" y="770.5" width="88.0" height="16.2" fill="#000"/>
<rect x="456.9" y="798.0" width="88.9" height="16.2" fill="#000"/>
<rect x="456.9" y="825.5" width="76.7" height="16.2" fill="#000"/>
<rect x="456.9" y="853.0" width="92.0" height="16.2" fill="#000"/>
<line x1="456.9" y1="737.4" x2="456.9" y2="874.9" stroke="#3c3f48" stroke-width="2"/>
<text x="375.0" y="691.5" font-size="16.06" font-weight="bold" fill="#000" stroke="#000" stroke-width="0.2" textLength="215.6" lengthAdjust="spacingAndGlyphs">SF Homes Average Price Per</text>
<text x="458.9" y="715.8" font-size="16.06" font-weight="bold" fill="#000" stroke="#000" stroke-width="0.2" textLength="47.8" lengthAdjust="spacingAndGlyphs">Sq. Ft.</text>
<text x="579.6" y="719.6" font-size="16.34" font-weight="bold" fill="#1fb254" stroke="#1fb254" stroke-width="0.3" textLength="53.6" lengthAdjust="spacingAndGlyphs">+34.5%</text>
<text y="754.9" font-size="10.34" font-weight="bold" fill="#3a3a3a" stroke="#3a3a3a" stroke-width="0.35"><tspan x="343.2" textLength="44.1" lengthAdjust="spacingAndGlyphs">JAN 2021</tspan> <tspan x="392.8">-</tspan> <tspan x="399.3" textLength="44.6" lengthAdjust="spacingAndGlyphs">DEC 2021</tspan></text>
<text y="782.4" font-size="10.34" font-weight="bold" fill="#3a3a3a" stroke="#3a3a3a" stroke-width="0.35"><tspan x="343.2" textLength="44.1" lengthAdjust="spacingAndGlyphs">JAN 2020</tspan> <tspan x="392.8">-</tspan> <tspan x="399.3" textLength="44.6" lengthAdjust="spacingAndGlyphs">DEC 2020</tspan></text>
<text y="809.9" font-size="10.34" font-weight="bold" fill="#3a3a3a" stroke="#3a3a3a" stroke-width="0.35"><tspan x="343.2" textLength="44.1" lengthAdjust="spacingAndGlyphs">JAN 2019</tspan> <tspan x="392.8">-</tspan> <tspan x="399.3" textLength="44.6" lengthAdjust="spacingAndGlyphs">DEC 2019</tspan></text>
<text y="837.4" font-size="10.34" font-weight="bold" fill="#3a3a3a" stroke="#3a3a3a" stroke-width="0.35"><tspan x="343.2" textLength="44.1" lengthAdjust="spacingAndGlyphs">JAN 2018</tspan> <tspan x="392.8">-</tspan> <tspan x="399.3" textLength="44.6" lengthAdjust="spacingAndGlyphs">DEC 2018</tspan></text>
<text y="864.9" font-size="10.34" font-weight="bold" fill="#3a3a3a" stroke="#3a3a3a" stroke-width="0.35"><tspan x="343.2" textLength="44.1" lengthAdjust="spacingAndGlyphs">JAN 2017</tspan> <tspan x="392.8">-</tspan> <tspan x="399.3" textLength="44.6" lengthAdjust="spacingAndGlyphs">DEC 2017</tspan></text>
<text x="584.1" y="756.6" font-size="14.53" font-weight="bold" fill="#000" stroke="#000" stroke-width="0.2" textLength="28.4" lengthAdjust="spacingAndGlyphs">$731</text>
<text x="553.1" y="784.1" font-size="14.53" font-weight="bold" fill="#000" stroke="#000" stroke-width="0.2" textLength="28.4" lengthAdjust="spacingAndGlyphs">$543</text>
<text x="554.0" y="811.6" font-size="14.53" font-weight="bold" fill="#000" stroke="#000" stroke-width="0.2" textLength="28.4" lengthAdjust="spacingAndGlyphs">$551</text>
<text x="541.8" y="839.1" font-size="14.53" font-weight="bold" fill="#000" stroke="#000" stroke-width="0.2" textLength="28.4" lengthAdjust="spacingAndGlyphs">$473</text>
<text x="557.1" y="866.6" font-size="14.53" font-weight="bold" fill="#000" stroke="#000" stroke-width="0.2" textLength="28.4" lengthAdjust="spacingAndGlyphs">$570</text>
<text x="456.9" y="895.0" font-size="10.61" font-weight="bold" fill="#444" stroke="#444" stroke-width="0.3" text-anchor="middle" textLength="12.2" lengthAdjust="spacingAndGlyphs">$0</text>
<text x="489.5" y="895.0" font-size="10.61" font-weight="bold" fill="#444" stroke="#444" stroke-width="0.3" text-anchor="middle" textLength="24.6" lengthAdjust="spacingAndGlyphs">$200</text>
<text x="522.0" y="895.0" font-size="10.61" font-weight="bold" fill="#444" stroke="#444" stroke-width="0.3" text-anchor="middle" textLength="24.6" lengthAdjust="spacingAndGlyphs">$400</text>
<text x="554.6" y="895.0" font-size="10.61" font-weight="bold" fill="#444" stroke="#444" stroke-width="0.3" text-anchor="middle" textLength="24.6" lengthAdjust="spacingAndGlyphs">$600</text>
<text x="587.1" y="895.0" font-size="10.61" font-weight="bold" fill="#444" stroke="#444" stroke-width="0.3" text-anchor="middle" textLength="24.6" lengthAdjust="spacingAndGlyphs">$800</text>
</g>
<rect x="650.0" y="662.5" width="316.0" height="251.0" fill="url(#g10)"/>
<g clip-path="url(#c10)">
<line x1="812.4" y1="737.4" x2="812.4" y2="874.9" stroke="#d2d2d2" stroke-width="1"/>
<line x1="860.2" y1="737.4" x2="860.2" y2="874.9" stroke="#d2d2d2" stroke-width="1"/>
<line x1="908.4" y1="737.4" x2="908.4" y2="874.9" stroke="#a4a4a4" stroke-width="1"/>
<rect x="763.7" y="743.0" width="69.7" height="16.2" fill="#8ea9db"/>
<rect x="763.7" y="770.5" width="66.5" height="16.2" fill="#8ea9db"/>
<rect x="763.7" y="798.0" width="92.3" height="16.2" fill="#8ea9db"/>
<rect x="763.7" y="825.5" width="55.0" height="16.2" fill="#8ea9db"/>
<rect x="763.7" y="853.0" width="87.4" height="16.2" fill="#8ea9db"/>
<line x1="763.7" y1="737.4" x2="763.7" y2="874.9" stroke="#3c3f48" stroke-width="2"/>
<text x="700.0" y="691.5" font-size="16.06" font-weight="bold" fill="#000" stroke="#000" stroke-width="0.2" textLength="215.6" lengthAdjust="spacingAndGlyphs">SF Homes Average Price Per</text>
<text x="783.9" y="715.8" font-size="16.06" font-weight="bold" fill="#000" stroke="#000" stroke-width="0.2" textLength="47.8" lengthAdjust="spacingAndGlyphs">Sq. Ft.</text>
<text x="914.2" y="714.7" font-size="16.34" font-weight="bold" fill="#1fb254" stroke="#1fb254" stroke-width="0.3" textLength="43.4" lengthAdjust="spacingAndGlyphs">+3.8%</text>
<text y="755.4" font-size="10.75" font-weight="bold" fill="#3a3a3a" stroke="#3a3a3a" stroke-width="0.35"><tspan x="666.2" textLength="52.1" lengthAdjust="spacingAndGlyphs">JAN 2021</tspan> <tspan x="723.3">-</tspan> <tspan x="729.7" textLength="21.5" lengthAdjust="spacingAndGlyphs">DEC</tspan><tspan x="752.4" textLength="8.3" lengthAdjust="spacingAndGlyphs">…</tspan></text>
<text y="782.9" font-size="10.75" font-weight="bold" fill="#3a3a3a" stroke="#3a3a3a" stroke-width="0.35"><tspan x="666.2" textLength="52.1" lengthAdjust="spacingAndGlyphs">JAN 2020</tspan> <tspan x="723.3">-</tspan> <tspan x="729.7" textLength="21.5" lengthAdjust="spacingAndGlyphs">DEC</tspan><tspan x="752.4" textLength="8.3" lengthAdjust="spacingAndGlyphs">…</tspan></text>
<text y="810.4" font-size="10.75" font-weight="bold" fill="#3a3a3a" stroke="#3a3a3a" stroke-width="0.35"><tspan x="666.2" textLength="52.1" lengthAdjust="spacingAndGlyphs">JAN 2019</tspan> <tspan x="723.3">-</tspan> <tspan x="729.7" textLength="21.5" lengthAdjust="spacingAndGlyphs">DEC</tspan><tspan x="752.4" textLength="8.3" lengthAdjust="spacingAndGlyphs">…</tspan></text>
<text y="837.9" font-size="10.75" font-weight="bold" fill="#3a3a3a" stroke="#3a3a3a" stroke-width="0.35"><tspan x="666.2" textLength="52.1" lengthAdjust="spacingAndGlyphs">JAN 2018</tspan> <tspan x="723.3">-</tspan> <tspan x="729.7" textLength="21.5" lengthAdjust="spacingAndGlyphs">DEC</tspan><tspan x="752.4" textLength="8.3" lengthAdjust="spacingAndGlyphs">…</tspan></text>
<text y="865.4" font-size="10.75" font-weight="bold" fill="#3a3a3a" stroke="#3a3a3a" stroke-width="0.35"><tspan x="666.2" textLength="52.1" lengthAdjust="spacingAndGlyphs">JAN 2017</tspan> <tspan x="723.3">-</tspan> <tspan x="729.7" textLength="21.5" lengthAdjust="spacingAndGlyphs">DEC</tspan><tspan x="752.4" textLength="8.3" lengthAdjust="spacingAndGlyphs">…</tspan></text>
<text x="841.6" y="756.6" font-size="14.53" font-weight="bold" fill="#000" stroke="#000" stroke-width="0.2" textLength="28.4" lengthAdjust="spacingAndGlyphs">$722</text>
<text x="838.4" y="784.1" font-size="14.53" font-weight="bold" fill="#000" stroke="#000" stroke-width="0.2" textLength="28.4" lengthAdjust="spacingAndGlyphs">$695</text>
<text x="864.2" y="811.6" font-size="14.53" font-weight="bold" fill="#000" stroke="#000" stroke-width="0.2" textLength="28.4" lengthAdjust="spacingAndGlyphs">$960</text>
<text x="826.9" y="839.1" font-size="14.53" font-weight="bold" fill="#000" stroke="#000" stroke-width="0.2" textLength="28.4" lengthAdjust="spacingAndGlyphs">$574</text>
<text x="859.3" y="866.6" font-size="14.53" font-weight="bold" fill="#000" stroke="#000" stroke-width="0.2" textLength="28.4" lengthAdjust="spacingAndGlyphs">$909</text>
<text x="763.7" y="895.0" font-size="10.61" font-weight="bold" fill="#444" stroke="#444" stroke-width="0.3" text-anchor="middle" textLength="12.2" lengthAdjust="spacingAndGlyphs">$0</text>
<text x="812.4" y="895.0" font-size="10.61" font-weight="bold" fill="#444" stroke="#444" stroke-width="0.3" text-anchor="middle" textLength="24.6" lengthAdjust="spacingAndGlyphs">$500</text>
<text x="860.2" y="895.0" font-size="10.61" font-weight="bold" fill="#444" stroke="#444" stroke-width="0.3" text-anchor="middle" textLength="33.0" lengthAdjust="spacingAndGlyphs">$1,000</text>
<text x="908.4" y="895.0" font-size="10.61" font-weight="bold" fill="#444" stroke="#444" stroke-width="0.3" text-anchor="middle" textLength="33.0" lengthAdjust="spacingAndGlyphs">$1,500</text>
</g>
<rect x="971.0" y="662.5" width="320.0" height="251.0" fill="url(#g11)"/>
<g clip-path="url(#c11)">
<line x1="1144.3" y1="737.4" x2="1144.3" y2="874.9" stroke="#bfbfbf" stroke-width="1"/>
<line x1="1186.8" y1="737.4" x2="1186.8" y2="874.9" stroke="#bfbfbf" stroke-width="1"/>
<line x1="1229.2" y1="737.4" x2="1229.2" y2="874.9" stroke="#bfbfbf" stroke-width="1"/>
<rect x="1101.9" y="743.0" width="83.1" height="16.2" fill="#000"/>
<rect x="1101.9" y="770.5" width="69.2" height="16.2" fill="#000"/>
<rect x="1101.9" y="798.0" width="83.1" height="16.2" fill="#000"/>
<rect x="1101.9" y="825.5" width="74.1" height="16.2" fill="#000"/>
<rect x="1101.9" y="853.0" width="51.5" height="16.2" fill="#000"/>
<line x1="1101.9" y1="737.4" x2="1101.9" y2="874.9" stroke="#3c3f48" stroke-width="2"/>
<text x="1009.9" y="691.5" font-size="16.06" font-weight="bold" fill="#000" stroke="#000" stroke-width="0.2" textLength="243.1" lengthAdjust="spacingAndGlyphs">SF Homes Average Price Per Sq.</text>
<text x="1121.3" y="715.8" font-size="16.06" font-weight="bold" fill="#000" stroke="#000" stroke-width="0.2" textLength="18.8" lengthAdjust="spacingAndGlyphs">Ft.</text>
<text x="1230.7" y="715.8" font-size="16.34" font-weight="bold" fill="#1fb254" stroke="#1fb254" stroke-width="0.3" textLength="52.1" lengthAdjust="spacingAndGlyphs">+20.6%</text>
<text y="754.9" font-size="10.34" fill="#3c3c3c" stroke="#3c3c3c" stroke-width="0.3"><tspan x="989.6" textLength="43.6" lengthAdjust="spacingAndGlyphs">JAN 2021</tspan> <tspan x="1038.0">-</tspan> <tspan x="1045.4" textLength="44.6" lengthAdjust="spacingAndGlyphs">DEC 2021</tspan></text>
<text y="782.4" font-size="10.34" fill="#3c3c3c" stroke="#3c3c3c" stroke-width="0.3"><tspan x="989.6" textLength="43.6" lengthAdjust="spacingAndGlyphs">JAN 2020</tspan> <tspan x="1038.0">-</tspan> <tspan x="1045.4" textLength="44.6" lengthAdjust="spacingAndGlyphs">DEC 2020</tspan></text>
<text y="809.9" font-size="10.34" fill="#3c3c3c" stroke="#3c3c3c" stroke-width="0.3"><tspan x="989.6" textLength="43.6" lengthAdjust="spacingAndGlyphs">JAN 2019</tspan> <tspan x="1038.0">-</tspan> <tspan x="1045.4" textLength="44.6" lengthAdjust="spacingAndGlyphs">DEC 2019</tspan></text>
<text y="837.4" font-size="10.34" fill="#3c3c3c" stroke="#3c3c3c" stroke-width="0.3"><tspan x="989.6" textLength="43.6" lengthAdjust="spacingAndGlyphs">JAN 2018</tspan> <tspan x="1038.0">-</tspan> <tspan x="1045.4" textLength="44.6" lengthAdjust="spacingAndGlyphs">DEC 2018</tspan></text>
<text y="864.9" font-size="10.34" fill="#3c3c3c" stroke="#3c3c3c" stroke-width="0.3"><tspan x="989.6" textLength="43.6" lengthAdjust="spacingAndGlyphs">JAN 2017</tspan> <tspan x="1038.0">-</tspan> <tspan x="1045.4" textLength="44.6" lengthAdjust="spacingAndGlyphs">DEC 2017</tspan></text>
<text x="1193.2" y="756.6" font-size="14.53" font-weight="bold" fill="#000" stroke="#000" stroke-width="0.2" textLength="28.4" lengthAdjust="spacingAndGlyphs">$979</text>
<text x="1179.3" y="784.1" font-size="14.53" font-weight="bold" fill="#000" stroke="#000" stroke-width="0.2" textLength="28.4" lengthAdjust="spacingAndGlyphs">$811</text>
<text x="1193.2" y="811.6" font-size="14.53" font-weight="bold" fill="#000" stroke="#000" stroke-width="0.2" textLength="28.4" lengthAdjust="spacingAndGlyphs">$976</text>
<text x="1184.2" y="839.1" font-size="14.53" font-weight="bold" fill="#000" stroke="#000" stroke-width="0.2" textLength="28.4" lengthAdjust="spacingAndGlyphs">$870</text>
<text x="1161.6" y="866.6" font-size="14.53" font-weight="bold" fill="#000" stroke="#000" stroke-width="0.2" textLength="28.4" lengthAdjust="spacingAndGlyphs">$603</text>
<text x="1101.9" y="895.0" font-size="10.61" fill="#3c3c3c" stroke="#3c3c3c" stroke-width="0.3" text-anchor="middle" textLength="12.2" lengthAdjust="spacingAndGlyphs">$0</text>
<text x="1144.3" y="895.0" font-size="10.61" fill="#3c3c3c" stroke="#3c3c3c" stroke-width="0.3" text-anchor="middle" textLength="24.6" lengthAdjust="spacingAndGlyphs">$500</text>
<text x="1186.8" y="895.0" font-size="10.61" fill="#3c3c3c" stroke="#3c3c3c" stroke-width="0.3" text-anchor="middle" textLength="33.0" lengthAdjust="spacingAndGlyphs">$1,000</text>
<text x="1229.2" y="895.0" font-size="10.61" fill="#3c3c3c" stroke="#3c3c3c" stroke-width="0.3" text-anchor="middle" textLength="33.0" lengthAdjust="spacingAndGlyphs">$1,500</text>
</g>
</svg>
</body></html>
